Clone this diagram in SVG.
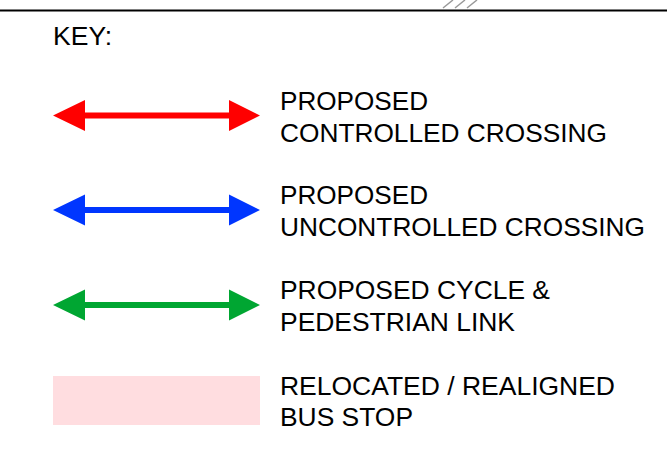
<svg xmlns="http://www.w3.org/2000/svg" width="667" height="473" viewBox="0 0 667 473">
<style>
  .t { font-family: "Liberation Sans", Arial, sans-serif; font-size: 25px; fill: #000; }
  .hatch { stroke: #999; stroke-width: 1.5; }
</style>
<defs>
  <path id="dblarrow" d="M0,0 L32,-15.5 L32,-3 L176,-3 L176,-15.5 L207,0 L176,15.5 L176,3 L32,3 L32,15.5 Z"/>
</defs>
<rect width="667" height="473" fill="#fff"/>
<g id="frame">
  <line x1="0" y1="10.5" x2="667" y2="10.5" stroke="#000" stroke-width="2"/>
  <line class="hatch" x1="443" y1="8" x2="453" y2="0"/>
  <line class="hatch" x1="455" y1="8" x2="465" y2="0"/>
  <line class="hatch" x1="467" y1="8" x2="477" y2="0"/>
</g>
<g id="key-title">
  <text class="t" x="53" y="45" textLength="59" lengthAdjust="spacingAndGlyphs">KEY:</text>
</g>
<g id="connectors">
  <use href="#dblarrow" x="53" y="115.5" fill="#FF0000"/>
  <use href="#dblarrow" x="53" y="210" fill="#0036FF"/>
  <use href="#dblarrow" x="53" y="305" fill="#00A632"/>
</g>
<g id="key-controlled">
  <text class="t" x="280" y="110" textLength="148" lengthAdjust="spacingAndGlyphs">PROPOSED</text>
  <text class="t" x="280" y="141.5" textLength="327" lengthAdjust="spacingAndGlyphs">CONTROLLED CROSSING</text>
</g>
<g id="key-uncontrolled">
  <text class="t" x="280" y="204" textLength="148" lengthAdjust="spacingAndGlyphs">PROPOSED</text>
  <text class="t" x="280" y="235.5" textLength="365" lengthAdjust="spacingAndGlyphs">UNCONTROLLED CROSSING</text>
</g>
<g id="key-cycle">
  <text class="t" x="280" y="299" textLength="270" lengthAdjust="spacingAndGlyphs">PROPOSED CYCLE &amp;</text>
  <text class="t" x="280" y="330.5" textLength="235" lengthAdjust="spacingAndGlyphs">PEDESTRIAN LINK</text>
</g>
<g id="key-busstop">
  <rect x="53" y="376" width="207" height="49" fill="#FFDDE0"/>
  <text class="t" x="280" y="395" textLength="335" lengthAdjust="spacingAndGlyphs">RELOCATED / REALIGNED</text>
  <text class="t" x="280" y="425.5" textLength="133" lengthAdjust="spacingAndGlyphs">BUS STOP</text>
</g>
</svg>
